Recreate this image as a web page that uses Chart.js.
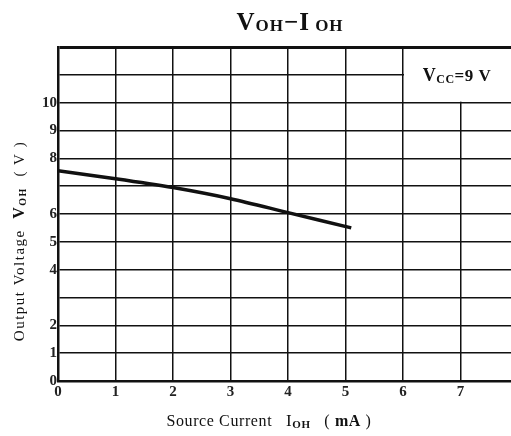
<!DOCTYPE html>
<html>
<head>
<meta charset="utf-8">
<script src="https://cdn.jsdelivr.net/npm/chart.js@4"></script>
<style>
  html, body { margin: 0; padding: 0; background: #fff; overflow: hidden; }
  #wrap { width: 525px; height: 436px; }
</style>
</head>
<body>
<div id="wrap"><canvas id="vohChart"></canvas></div>
<script>
// Source current I_OH (mA) and output voltage V_OH (V)
const sourceCurrent = [0, 1, 2, 3, 4, 5.1];
const outputVoltage = [7.55, 7.27, 6.95, 6.55, 6.05, 5.5];

// tick labels as printed on the sheet (3, 7, 11 and 12 have no label)
const xTickLabels = ['0', '1', '2', '3', '4', '5', '6', '7', '8'];
const yTickLabels = { 0: '0', 1: '1', 2: '2', 4: '4', 5: '5', 6: '6', 8: '8', 9: '9', 10: '10' };

const serif = '"Liberation Serif", "DejaVu Serif", serif';

// draws a line of text made of pieces, some of them subscripts
function drawRich(ctx, parts, x, y, align, spacing) {
    ctx.letterSpacing = (spacing || 0) + 'px';
    let total = 0;
    parts.forEach(p => { ctx.font = p.font; total += ctx.measureText(p.t).width; });
    let cx = align === 'center' ? x - total / 2 : x;
    ctx.textBaseline = 'alphabetic';
    ctx.textAlign = 'left';
    parts.forEach(p => {
        ctx.font = p.font;
        ctx.fillText(p.t, cx, y + (p.dy || 0));
        cx += ctx.measureText(p.t).width;
    });
    ctx.letterSpacing = '0px';
}

const textPlugin = {
    id: 'sheetText',
    beforeDatasetsDraw(chart) {
        // white box behind the V_CC note, covering the grid there
        const { ctx, scales: { x, y } } = chart;
        ctx.save();
        ctx.fillStyle = '#fff';
        const left = x.getPixelForValue(6) + 1;
        const top = y.getPixelForValue(12) + 2;
        ctx.fillRect(left, top, x.getPixelForValue(8) + 10 - left, y.getPixelForValue(10) - 1 - top);
        ctx.restore();
    },
    afterDraw(chart) {
        const { ctx, scales: { x, y } } = chart;
        ctx.save();
        ctx.fillStyle = '#111';

        // title
        drawRich(ctx, [
            { t: 'V', font: 'bold 25px ' + serif },
            { t: 'OH', font: 'bold 17px ' + serif, dy: 1 },
            { t: '\u2212', font: 'bold 25px ' + serif },
            { t: 'I', font: 'bold 25px ' + serif },
            { t: ' OH', font: 'bold 17px ' + serif, dy: 1 }
        ], 290, 30, 'center', 1);

        // V_CC note
        drawRich(ctx, [
            { t: 'V', font: 'bold 18px ' + serif },
            { t: 'CC', font: 'bold 12px ' + serif, dy: 2 },
            { t: '=9 V', font: 'bold 17px ' + serif }
        ], 457, y.getPixelForValue(11) + 6, 'center', 0.5);

        // x axis title
        drawRich(ctx, [
            { t: 'Source Current   ', font: '16px ' + serif },
            { t: 'I', font: '17px ' + serif },
            { t: 'OH', font: 'bold 11px ' + serif, dy: 2 },
            { t: '   ( ', font: '16px ' + serif },
            { t: 'mA', font: 'bold 16px ' + serif },
            { t: ' )', font: '16px ' + serif }
        ], 269, 426, 'center', 0.6);

        // y axis title, rotated
        ctx.translate(24, 241);
        ctx.rotate(-Math.PI / 2);
        drawRich(ctx, [
            { t: 'Output Voltage  ', font: '15px ' + serif },
            { t: 'V', font: 'bold 16px ' + serif },
            { t: 'OH', font: 'bold 10px ' + serif, dy: 2 },
            { t: '  ( V )', font: '15px ' + serif }
        ], 0, 0, 'center', 1.5);
        ctx.restore();
    }
};

const ctx = document.getElementById('vohChart').getContext('2d');
const vohChart = new Chart(ctx, {
    type: 'line',
    data: {
        datasets: [{
            label: 'V_OH',
            data: sourceCurrent.map((c, i) => ({ x: c, y: outputVoltage[i] })),
            borderColor: '#111',
            borderWidth: 3.5,
            pointRadius: 0,
            tension: 0.3,
            fill: false
        }]
    },
    options: {
        responsive: true,
        maintainAspectRatio: false,
        animation: false,
        layout: { padding: { top: 47, right: 7, left: 0, bottom: 0 } },
        plugins: {
            legend: { display: false },
            tooltip: { enabled: false }
        },
        scales: {
            x: {
                type: 'linear',
                min: 0,
                max: 8,
                afterFit: s => { s.height = 55; },
                ticks: {
                    stepSize: 1,
                    color: '#222',
                    padding: 2,
                    font: { family: serif, size: 15, weight: 'bold' },
                    callback: v => xTickLabels[v]
                },
                grid: { color: '#111', lineWidth: 1.5, drawTicks: false },
                border: { color: '#111', width: 2.5 }
            },
            y: {
                min: 0,
                max: 12,
                afterFit: s => { s.width = 58; },
                ticks: {
                    stepSize: 1,
                    color: '#222',
                    padding: 1,
                    font: { family: serif, size: 15, weight: 'bold' },
                    callback: v => yTickLabels[v] || ''
                },
                grid: {
                    color: '#111',
                    drawTicks: false,
                    lineWidth: c => (c.tick && c.tick.value === 12 ? 3 : 1.5)
                },
                border: { color: '#111', width: 2.5 }
            }
        }
    },
    plugins: [textPlugin]
});
</script>
</body>
</html>
